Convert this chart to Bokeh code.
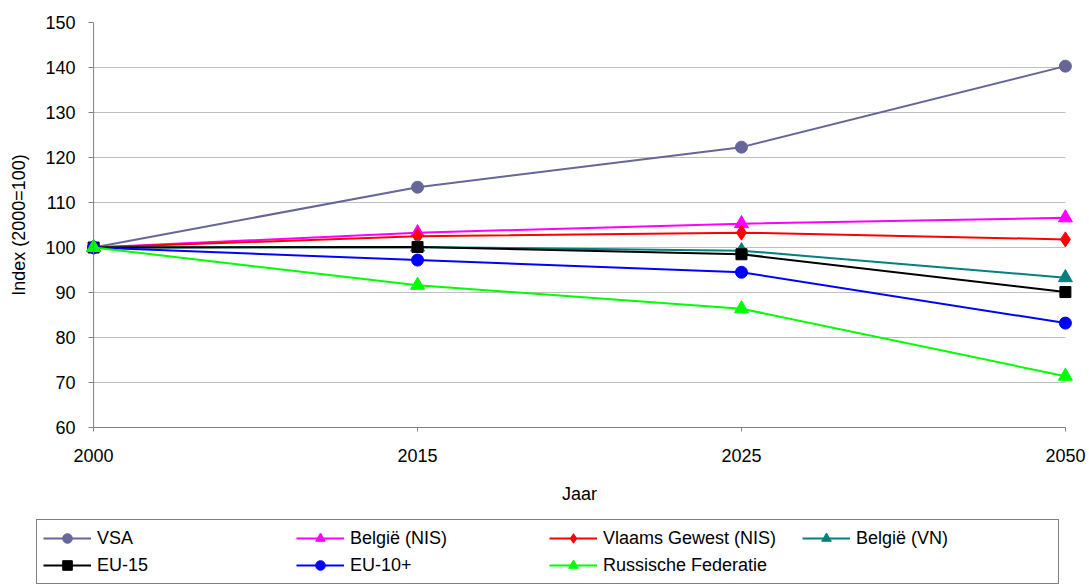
from bokeh.plotting import figure
from bokeh.models import Range1d, FixedTicker, Legend, LegendItem, ColumnDataSource, Span, Grid
from bokeh.embed import file_html
from bokeh.resources import INLINE

years = ["2000", "2015", "2025", "2050"]
vsa = [100, 113.4, 122.3, 140.3]
belgie_nis = [100, 103.3, 105.3, 106.6]
vlaams_nis = [100, 102.5, 103.3, 101.8]
belgie_vn = [100, 100.1, 99.3, 93.3]
eu15 = [100, 100.1, 98.5, 90.1]
eu10 = [100, 97.2, 94.5, 83.2]
russia = [100, 91.6, 86.4, 71.4]

y_ticks = [60, 70, 80, 90, 100, 110, 120, 130, 140, 150]

FONT = "Liberation Sans"
FS = "18px"
xs = list(range(len(years)))
pad = 0.025

p = figure(width=1089, height=515, output_backend="svg", toolbar_location=None,
           x_range=Range1d(xs[0] - pad, xs[-1] + pad), y_range=Range1d(60, 150),
           min_border_left=85, min_border_right=16, min_border_top=22, min_border_bottom=88)
p.outline_line_color = None
p.background_fill_color = "white"
p.border_fill_color = "white"

p.xaxis.ticker = FixedTicker(ticks=xs)
p.xaxis.major_label_overrides = {i: y for i, y in enumerate(years)}
p.xaxis.bounds = (xs[0], xs[-1])
p.yaxis.ticker = FixedTicker(ticks=y_ticks)

for ax in (p.xaxis, p.yaxis):
    ax.axis_line_color = "#808080"
    ax.major_tick_line_color = "#808080"
    ax.minor_tick_line_color = None
    ax.major_label_text_font = FONT
    ax.major_label_text_font_size = FS
    ax.major_label_text_color = "black"
    ax.axis_label_text_font = FONT
    ax.axis_label_text_font_size = FS
    ax.axis_label_text_font_style = "normal"
    ax.axis_label_text_color = "black"

p.xaxis.major_tick_in = 0
p.xaxis.major_tick_out = 4
p.xaxis.axis_label = "Jaar"
p.xaxis.major_label_standoff = 17
p.xaxis.axis_label_standoff = 19

# y axis line drawn at the 2000 position; ticks shifted to meet it
p.yaxis.axis_line_color = None
p.yaxis.major_tick_in = 8
p.yaxis.major_tick_out = -3
p.yaxis.axis_label = "Index (2000=100)"
p.yaxis.major_label_standoff = 10
p.yaxis.axis_label_standoff = 13
p.add_layout(Span(location=xs[0], dimension="height", line_color="#808080", line_width=1))

p.xgrid.grid_line_color = None
p.ygrid.grid_line_color = "#c0c0c0"
p.ygrid.grid_line_width = 1
if "cross_bounds" in Grid.properties():
    p.ygrid.cross_bounds = (xs[0], xs[-1])

series = [
    ("VSA", vsa, "#666699", "circle", 12),
    ("België (NIS)", belgie_nis, "#FF00FF", "triangle", 14),
    ("Vlaams Gewest (NIS)", vlaams_nis, "#FF0000", "diamond", 15),
    ("België (VN)", belgie_vn, "#008080", "triangle", 14),
    ("EU-15", eu15, "#000000", "square", 11),
    ("EU-10+", eu10, "#0000FF", "circle", 12),
    ("Russische Federatie", russia, "#00FF00", "triangle", 14),
]

# legend strip below the chart (same series, drawn out of view)
lg = figure(width=1089, height=73, output_backend="svg", toolbar_location=None,
            x_range=Range1d(100, 101), y_range=Range1d(1000, 1001),
            x_axis_location=None, y_axis_location=None,
            min_border_left=0, min_border_right=0, min_border_top=0, min_border_bottom=0)
lg.outline_line_color = None
lg.grid.visible = False
lg.background_fill_color = "white"
lg.border_fill_color = "white"

items = []
for name, vals, color, marker, size in series:
    src = ColumnDataSource(dict(x=xs, y=vals))
    p.line("x", "y", source=src, line_color=color, line_width=2)
    p.scatter("x", "y", source=src, marker=marker, size=size,
              fill_color=color, line_color=color)
    l = lg.line("x", "y", source=src, line_color=color, line_width=2)
    m = lg.scatter("x", "y", source=src, marker=marker, size=size,
                   fill_color=color, line_color=color)
    items.append(LegendItem(label=name, renderers=[l, m]))

legend = Legend(items=items, location=(36, 4), orientation="horizontal", ncols=4,
                border_line_color="black", border_line_width=1,
                background_fill_color="white", background_fill_alpha=1,
                label_text_font=FONT, label_text_font_size=FS,
                label_text_color="black",
                glyph_width=48, glyph_height=24, label_height=24,
                label_width=196, label_standoff=6, spacing=3, padding=6, margin=0)
lg.add_layout(legend, "center")

open("out.html", "w").write(file_html([p, lg], INLINE))
